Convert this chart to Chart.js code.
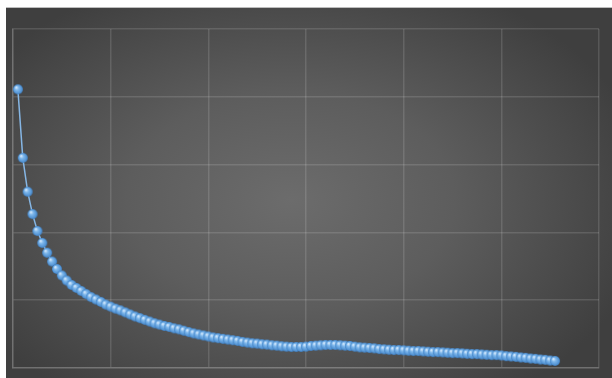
<!DOCTYPE html>
<html>
<head>
<meta charset="utf-8">
<script src="https://cdn.jsdelivr.net/npm/chart.js@4/dist/chart.umd.min.js"></script>
<style>
  html, body { margin: 0; padding: 0; background: #fff; }
  #wrap {
    position: absolute; left: 6px; top: 7px; width: 606px; height: 371px;
    background: radial-gradient(ellipse 60% 65% at 47% 52%, #6c6c6c 0%, #5d5d5d 45%, #4a4a4a 80%, #3f3f3f 100%);
    border-top: 1px solid #bdbdbd;
    box-sizing: border-box;
  }
  canvas { display: block; }
</style>
</head>
<body>
<div id="wrap"><canvas id="chart" width="606" height="370"></canvas></div>
<script>
// ── Data ──
const xValues = [
  1, 2, 3, 4, 5, 6, 7, 8, 9, 10, 11, 12, 13, 14, 15, 16, 17, 18, 19, 20,
  21, 22, 23, 24, 25, 26, 27, 28, 29, 30, 31, 32, 33, 34, 35, 36, 37, 38, 39, 40,
  41, 42, 43, 44, 45, 46, 47, 48, 49, 50, 51, 52, 53, 54, 55, 56, 57, 58, 59, 60,
  61, 62, 63, 64, 65, 66, 67, 68, 69, 70, 71, 72, 73, 74, 75, 76, 77, 78, 79, 80,
  81, 82, 83, 84, 85, 86, 87, 88, 89, 90, 91, 92, 93, 94, 95, 96, 97, 98, 99, 100,
  101, 102, 103, 104, 105, 106, 107, 108, 109, 110, 111
];
const yValues = [
  82.2, 62.0, 52.0, 45.4, 40.4, 36.9, 34.0, 31.4, 29.2, 27.3,
  25.8, 24.5, 23.6, 22.7, 21.8, 20.9, 20.2, 19.5, 18.7, 18.1,
  17.5, 17.0, 16.4, 15.8, 15.2, 14.7, 14.2, 13.7, 13.2, 12.8,
  12.4, 12.1, 11.7, 11.4, 11.0, 10.6, 10.2, 9.9, 9.6, 9.3,
  9.0, 8.8, 8.6, 8.4, 8.2, 8.0, 7.7, 7.5, 7.3, 7.2,
  7.0, 6.9, 6.7, 6.6, 6.4, 6.3, 6.2, 6.2, 6.2, 6.3,
  6.5, 6.6, 6.7, 6.8, 6.8, 6.8, 6.7, 6.6, 6.5, 6.3,
  6.1, 6.0, 5.9, 5.8, 5.6, 5.5, 5.4, 5.3, 5.3, 5.2,
  5.1, 5.0, 5.0, 4.9, 4.8, 4.7, 4.7, 4.6, 4.5, 4.4,
  4.4, 4.3, 4.2, 4.1, 4.1, 4.0, 3.9, 3.8, 3.8, 3.7,
  3.5, 3.4, 3.3, 3.1, 3.0, 2.8, 2.7, 2.5, 2.4, 2.2, 2.1
];
const xTicks = [0, 20, 40, 60, 80, 100, 120];
const yTicks = [0, 20, 40, 60, 80, 100];

// ── Glossy ball used as the point marker ──
function makeBall(r) {
  const c = document.createElement('canvas');
  c.width = c.height = r * 2 + 2;
  const g = c.getContext('2d');
  const cx = r + 1, cy = r + 1;
  const grad = g.createRadialGradient(cx - r * 0.35, cy - r * 0.4, 0.5, cx, cy, r);
  grad.addColorStop(0, '#cfe6fc');
  grad.addColorStop(0.35, '#7db6ea');
  grad.addColorStop(0.8, '#5596d6');
  grad.addColorStop(1, '#3f7cbc');
  g.fillStyle = grad;
  g.beginPath();
  g.arc(cx, cy, r, 0, Math.PI * 2);
  g.fill();
  return c;
}
const ball = makeBall(5);

const points = xValues.map((x, i) => ({ x, y: yValues[i] }));

// ── Chart ──
new Chart(document.getElementById('chart'), {
  type: 'line',
  data: {
    datasets: [{
      data: points,
      borderColor: '#86b6e4',
      borderWidth: 1.5,
      pointStyle: ball,
      pointRadius: 5,
      pointHoverRadius: 5,
      tension: 0,
      clip: false,
    }]
  },
  options: {
    responsive: false,
    animation: false,
    events: [],
    layout: { padding: { left: 7, top: 21, right: 13, bottom: 10 } },
    plugins: { legend: { display: false }, tooltip: { enabled: false } },
    scales: {
      x: {
        type: 'linear',
        min: xTicks[0],
        max: xTicks[xTicks.length - 1],
        afterBuildTicks: axis => { axis.ticks = xTicks.map(v => ({ value: v })); },
        ticks: { display: false },
        grid: { color: 'rgba(255,255,255,0.13)', drawTicks: false, lineWidth: 1.5 },
        border: { display: true, color: 'rgba(255,255,255,0.15)', width: 1.5 },
      },
      y: {
        min: yTicks[0],
        max: yTicks[yTicks.length - 1],
        afterBuildTicks: axis => { axis.ticks = yTicks.map(v => ({ value: v })); },
        ticks: { display: false },
        grid: { color: 'rgba(255,255,255,0.13)', drawTicks: false, lineWidth: 1.5 },
        border: { display: true, color: 'rgba(255,255,255,0.15)', width: 1.5 },
      }
    }
  }
});
</script>
</body>
</html>
